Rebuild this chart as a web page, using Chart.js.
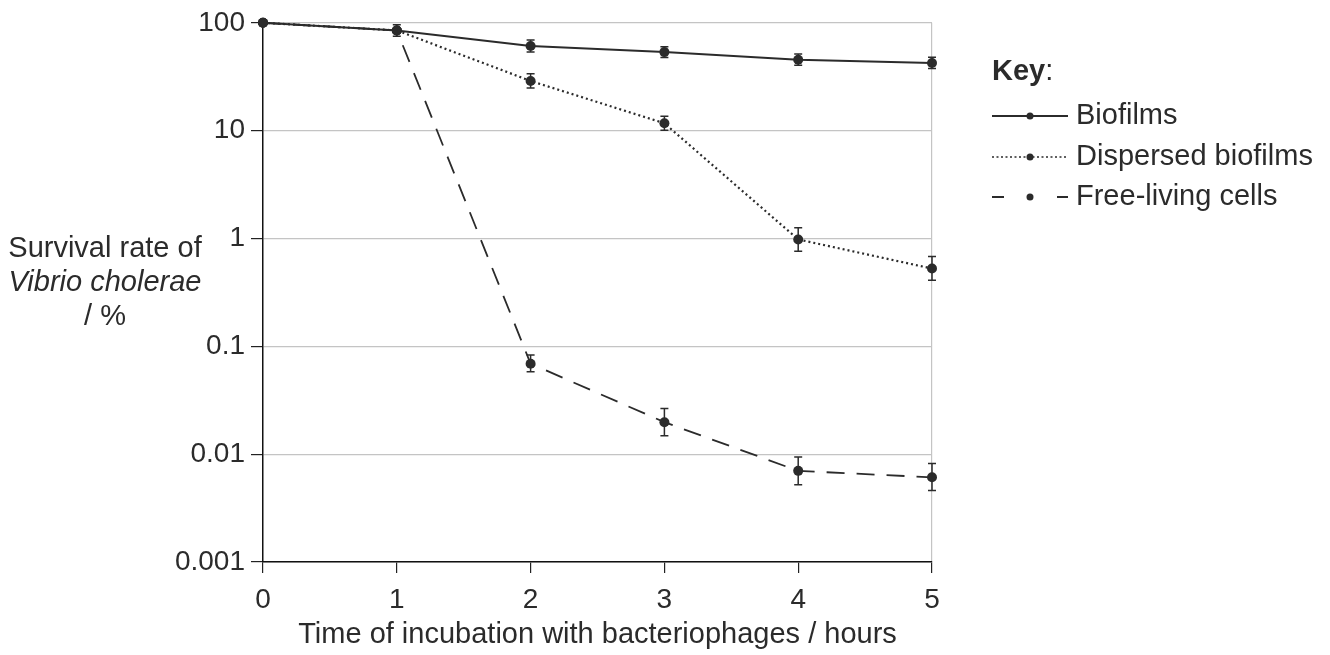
<!DOCTYPE html>
<html>
<head>
<meta charset="utf-8">
<script src="https://cdn.jsdelivr.net/npm/chart.js@4.4.1/dist/chart.umd.min.js"></script>
<style>
  html, body { margin: 0; padding: 0; background: #fff; }
  #wrap { width: 1330px; height: 655px; }
</style>
</head>
<body>
<div id="wrap"><canvas id="chart" width="1330" height="655"></canvas></div>
<script>
// data
const times = [0, 1, 2, 3, 4, 5];
const yTicks = [0.001, 0.01, 0.1, 1, 10, 100];
const yTickLabels = ['0.001', '0.01', '0.1', '1', '10', '100'];

const biofilms   = [100, 85, 61, 53.5, 45.5, 42.4];
const biofilmsHi = [null, 96, 69.3, 60.1, 51.3, 47.8];
const biofilmsLo = [null, 75, 53.7, 47.6, 40.3, 37.6];

const dispersed   = [100, 85, 28.9, 11.7, 0.98, 0.526];
const dispersedHi = [null, null, 33.7, 13.6, 1.26, 0.68];
const dispersedLo = [null, null, 24.8, 10.1, 0.76, 0.41];

const freeLiving   = [100, 85, 0.069, 0.0198, 0.0070, 0.0061];
const freeLivingHi = [null, null, 0.083, 0.0265, 0.0094, 0.0082];
const freeLivingLo = [null, null, 0.058, 0.0148, 0.0052, 0.0046];

const seriesLabels = ['Biofilms', 'Dispersed biofilms', 'Free-living cells'];
const yTitleLines = ['Survival rate of', 'Vibrio cholerae', '/ %'];
const xTitle = 'Time of incubation with bacteriophages / hours';

const FONT = '"Liberation Sans", Arial, Helvetica, sans-serif';
const INK = '#2b2b2b';

const toPoints = arr => arr.map((v, i) => ({ x: times[i], y: v }));

function makeSet(label, values, hi, lo, dash, legendDash, width) {
  return {
    label: label,
    data: toPoints(values),
    errHi: hi,
    errLo: lo,
    legendDash: legendDash,
    borderColor: INK,
    backgroundColor: INK,
    borderWidth: width,
    borderDash: dash,
    pointRadius: 5,
    pointHoverRadius: 5,
    pointBackgroundColor: INK,
    pointBorderColor: INK,
    pointBorderWidth: 0,
    tension: 0,
    clip: false,
    fill: false
  };
}

// error bars, drawn from the hi/lo arrays through the scales
const errorBars = {
  id: 'errorBars',
  afterDatasetsDraw(chart) {
    const { ctx, scales: { x, y } } = chart;
    ctx.save();
    ctx.strokeStyle = INK;
    ctx.lineWidth = 1.5;
    chart.data.datasets.forEach(ds => {
      ds.errHi.forEach((hi, i) => {
        const lo = ds.errLo[i];
        if (hi == null || lo == null) return;
        const px = x.getPixelForValue(times[i]);
        const top = y.getPixelForValue(hi);
        const bot = y.getPixelForValue(lo);
        ctx.beginPath();
        ctx.moveTo(px, top); ctx.lineTo(px, bot);
        ctx.moveTo(px - 4, top); ctx.lineTo(px + 4, top);
        ctx.moveTo(px - 4, bot); ctx.lineTo(px + 4, bot);
        ctx.stroke();
      });
    });
    ctx.restore();
  }
};

// y title (mixed italic) and the key on the right
const annotations = {
  id: 'annotations',
  afterDraw(chart) {
    const ctx = chart.ctx;
    ctx.save();
    ctx.fillStyle = INK;
    ctx.textAlign = 'center';
    ctx.textBaseline = 'alphabetic';
    ctx.font = '29px ' + FONT;
    ctx.fillText(yTitleLines[0], 105, 257);
    ctx.font = 'italic 29px ' + FONT;
    ctx.fillText(yTitleLines[1], 105, 291);
    ctx.font = '29px ' + FONT;
    ctx.fillText(yTitleLines[2], 105, 325);

    // key
    ctx.textAlign = 'left';
    ctx.font = 'bold 29px ' + FONT;
    ctx.fillText('Key', 992, 80);
    const kw = ctx.measureText('Key').width;
    ctx.font = '29px ' + FONT;
    ctx.fillText(':', 992 + kw, 80);

    const rowY = [116, 157, 197];
    chart.data.datasets.forEach((ds, i) => {
      const yy = rowY[i];
      ctx.strokeStyle = INK;
      ctx.lineWidth = i === 1 ? 1.5 : 1.8;
      ctx.setLineDash(ds.legendDash);
      ctx.beginPath();
      ctx.moveTo(992, yy);
      ctx.lineTo(1068, yy);
      ctx.stroke();
      ctx.setLineDash([]);
      ctx.beginPath();
      ctx.arc(1030, yy, 3.5, 0, Math.PI * 2);
      ctx.fill();
      ctx.textBaseline = 'middle';
      ctx.font = '29px ' + FONT;
      ctx.fillText(ds.label, 1076, yy);
    });
    ctx.restore();
  }
};

new Chart(document.getElementById('chart'), {
  type: 'line',
  data: {
    datasets: [
      makeSet(seriesLabels[0], biofilms, biofilmsHi, biofilmsLo, [], [], 2),
      makeSet(seriesLabels[1], dispersed, dispersedHi, dispersedLo, [2, 3], [2, 2.5], 2.2),
      makeSet(seriesLabels[2], freeLiving, freeLivingHi, freeLivingLo, [18, 12], [12, 53], 1.8)
    ]
  },
  options: {
    responsive: false,
    animation: false,
    events: [],
    layout: { padding: { left: 0, top: 19, right: 398, bottom: 0 } },
    plugins: {
      legend: { display: false },
      tooltip: { enabled: false }
    },
    scales: {
      x: {
        type: 'linear',
        min: 0,
        max: 5,
        afterBuildTicks: axis => { axis.ticks = times.map(v => ({ value: v })); },
        afterFit: axis => { axis.height = 93; },
        border: { color: '#111', width: 1.5 },
        grid: {
          drawOnChartArea: true,
          color: c => (c.index === times.length - 1 ? '#c4c4c4' : 'rgba(0,0,0,0)'),
          tickColor: '#222',
          tickLength: 11,
          lineWidth: 1.2
        },
        ticks: {
          color: INK,
          padding: 10,
          maxRotation: 0,
          font: { family: FONT, size: 28 }
        },
        title: {
          display: true,
          text: xTitle,
          color: INK,
          padding: { top: 0, bottom: 3 },
          font: { family: FONT, size: 29 }
        }
      },
      y: {
        type: 'logarithmic',
        min: yTicks[0],
        max: yTicks[yTicks.length - 1],
        afterBuildTicks: axis => { axis.ticks = yTicks.map(v => ({ value: v })); },
        afterFit: axis => { axis.width = 263; },
        border: { color: '#111', width: 1.5 },
        grid: {
          color: '#c4c4c4',
          tickColor: '#222',
          tickLength: 12,
          lineWidth: 1.2
        },
        ticks: {
          color: INK,
          padding: 6,
          font: { family: FONT, size: 28 },
          callback: (v, i) => yTickLabels[i]
        }
      }
    }
  },
  plugins: [errorBars, annotations]
});
</script>
</body>
</html>
